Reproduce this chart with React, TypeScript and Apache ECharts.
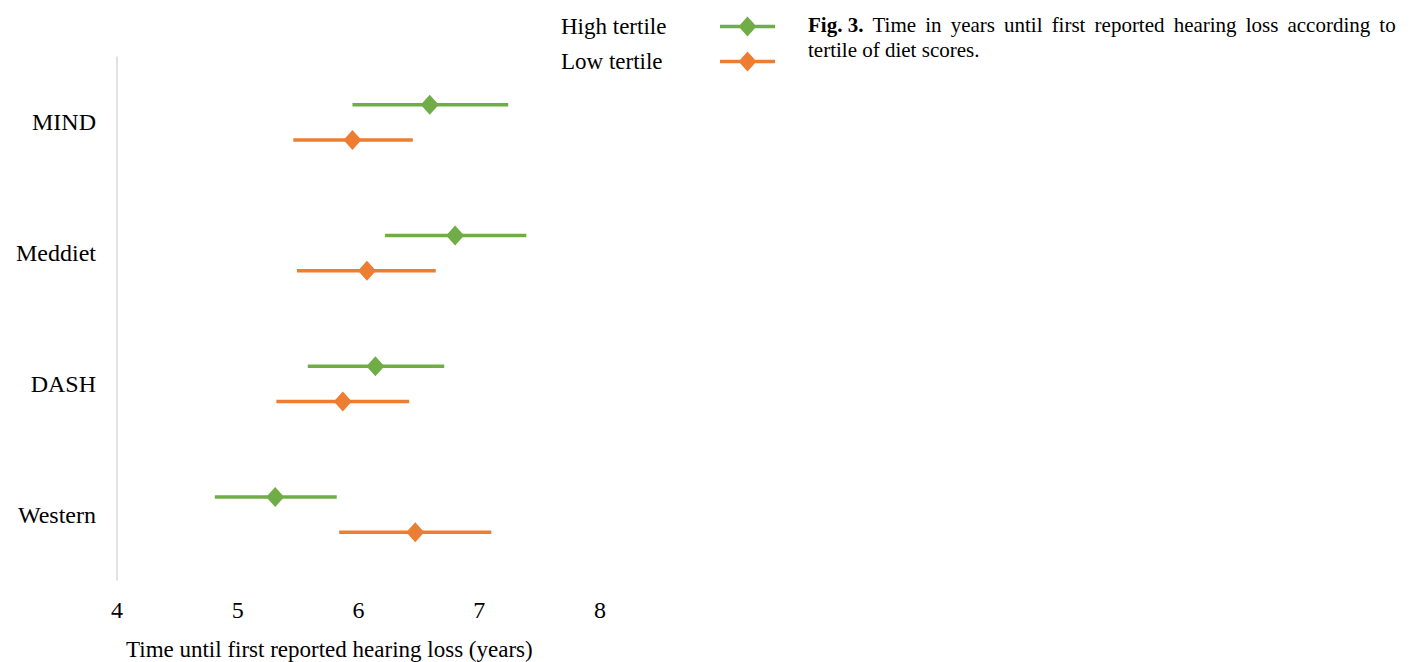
import React, { useEffect, useRef } from "react";
import * as echarts from "echarts";

const categories = ["MIND", "Meddiet", "DASH", "Western"];
const seriesNames = ["High tertile", "Low tertile"];
const highLower = [5.95, 6.22, 5.58, 4.81];
const highMean = [6.59, 6.8, 6.14, 5.31];
const highUpper = [7.24, 7.39, 6.71, 5.82];
const lowLower = [5.46, 5.49, 5.32, 5.84];
const lowMean = [5.95, 6.07, 5.87, 6.47];
const lowUpper = [6.45, 6.64, 6.42, 7.1];
const xTicks = [4, 5, 6, 7, 8];
const xTitle = "Time until first reported hearing loss (years)";
const captionBold = "Fig. 3.";
const captionLine1 = "Time in years until first reported hearing loss according to";
const captionLine2 = "tertile of diet scores.";

const GREEN = "#70AD47";
const ORANGE = "#ED7D31";
const FONT = "'Liberation Serif', 'Times New Roman', serif";
const ICON =
  "path://M0 8.25 L55 8.25 L55 11.75 L0 11.75 Z M27.5 0 L36.5 10 L27.5 20 L18.5 10 Z";

function makeSeries(name: string, color: string, lo: number[], mid: number[], hi: number[], offset: number) {
  return {
    type: "custom",
    name,
    itemStyle: { color },
    encode: { x: [0, 1, 2], y: 3 },
    data: categories.map((c, i) => [lo[i], mid[i], hi[i], c]),
    renderItem: (params: any, api: any) => {
      const cat = api.value(3);
      const pLo = api.coord([api.value(0), cat]);
      const pMid = api.coord([api.value(1), cat]);
      const pHi = api.coord([api.value(2), cat]);
      const band = api.size([0, 1])[1];
      const y = pMid[1] + band * offset;
      return {
        type: "group",
        children: [
          {
            type: "line",
            shape: { x1: pLo[0], y1: y, x2: pHi[0], y2: y },
            style: { stroke: color, lineWidth: 3.5 },
          },
          {
            type: "polygon",
            shape: {
              points: [
                [pMid[0], y - 10],
                [pMid[0] + 9, y],
                [pMid[0], y + 10],
                [pMid[0] - 9, y],
              ],
            },
            style: { fill: color },
          },
        ],
      };
    },
  };
}

export default function App() {
  const ref = useRef<HTMLDivElement>(null);
  useEffect(() => {
    if (!ref.current) return;
    const chart = echarts.init(ref.current, undefined, { renderer: "svg" });
    const words = captionLine1.split(" ");
    const line1Rich = "{b|" + captionBold + "}{s| }" + words.join("{s| }");
    chart.setOption({
      animation: false,
      backgroundColor: "#ffffff",
      textStyle: { fontFamily: FONT },
      grid: { left: 117, right: 811, top: 57, bottom: 82 },
      legend: {
        orient: "vertical",
        right: 631,
        top: 10,
        align: "right",
        itemWidth: 55,
        itemHeight: 20,
        itemGap: 12,
        selectedMode: false,
        formatter: (name: string) => "{t|" + name + "}",
        textStyle: {
          fontFamily: FONT,
          fontSize: 23,
          color: "#000",
          lineHeight: 23,
          padding: [0, 44, 0, 0],
          rich: {
            t: { fontFamily: FONT, fontSize: 23, color: "#000", lineHeight: 23, width: 110, align: "left" },
          },
        },
        data: [
          { name: seriesNames[0], icon: ICON },
          { name: seriesNames[1], icon: ICON },
        ],
      },
      xAxis: {
        type: "value",
        min: xTicks[0],
        max: xTicks[xTicks.length - 1],
        interval: 1,
        axisLine: { show: false },
        axisTick: { show: false },
        splitLine: { show: false },
        axisLabel: { fontFamily: FONT, fontSize: 24, color: "#000", margin: 18 },
      },
      yAxis: {
        type: "category",
        inverse: true,
        data: categories,
        axisLine: { show: true, lineStyle: { color: "#d9d9d9", width: 1.5 } },
        axisTick: { show: false },
        axisLabel: { fontFamily: FONT, fontSize: 24, color: "#000", margin: 21 },
      },
      graphic: [
        {
          type: "text",
          left: 126,
          top: 638,
          style: { text: xTitle, font: "23px " + FONT, fill: "#000" },
        },
        {
          type: "text",
          left: 808,
          top: 12,
          style: {
            text: line1Rich + "\n" + captionLine2,
            font: "21px " + FONT,
            fill: "#000",
            lineHeight: 25,
            rich: {
              b: { fontWeight: "bold", fontFamily: FONT, fontSize: 21, lineHeight: 25 },
              s: { width: 9.1, fontFamily: FONT, fontSize: 21, lineHeight: 25 },
            },
          },
        },
      ],
      series: [
        makeSeries(seriesNames[0], GREEN, highLower, highMean, highUpper, -0.134),
        makeSeries(seriesNames[1], ORANGE, lowLower, lowMean, lowUpper, 0.134),
      ],
    });
    return () => chart.dispose();
  }, []);
  return (
    <div
      ref={ref}
      style={{ position: "fixed", left: 0, top: 0, width: 1411, height: 662, background: "#fff" }}
    />
  );
}
